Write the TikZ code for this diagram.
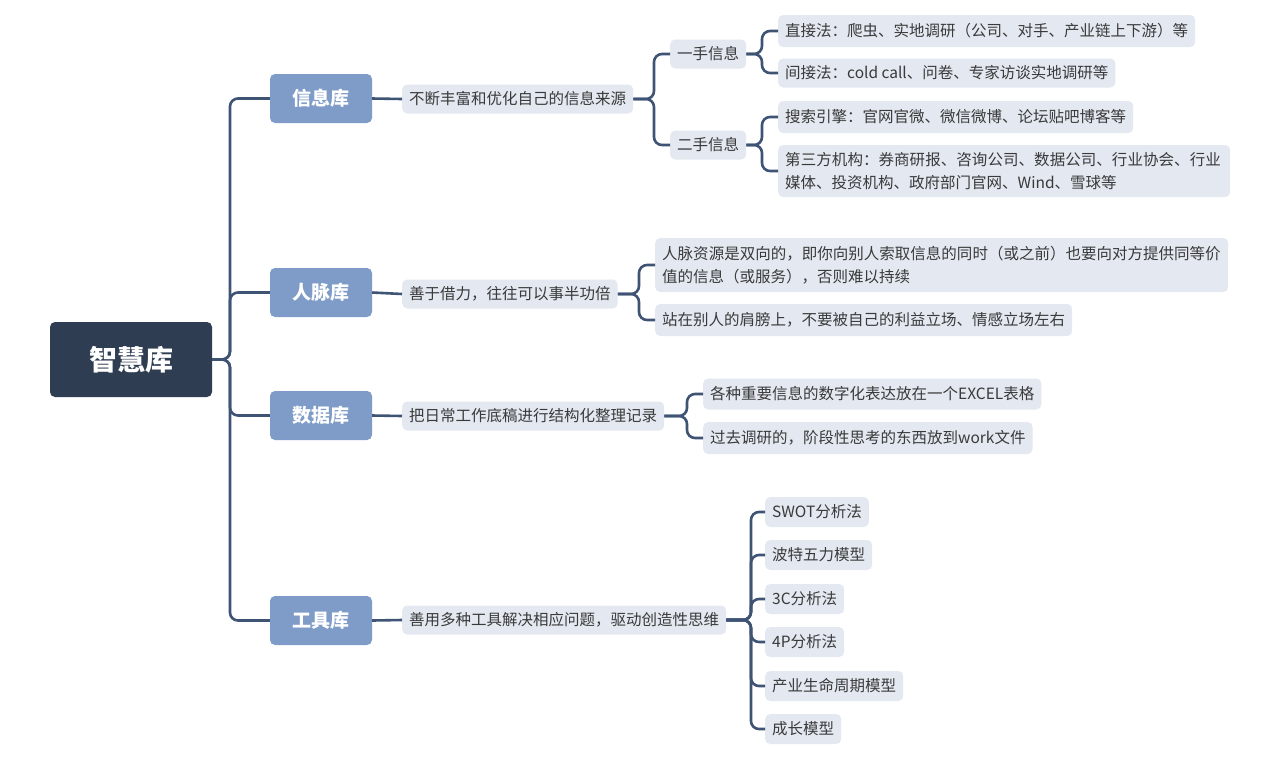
\documentclass[tikz,border=0pt]{standalone}
\usepackage{fontspec}
\setmainfont{Noto Sans CJK SC}
\XeTeXlinebreaklocale "zh"
\XeTeXlinebreakskip=0pt plus 1pt
\definecolor{rootc}{HTML}{2E3D52}
\definecolor{lone}{HTML}{7F9CC8}
\definecolor{ltwo}{HTML}{E3E8F1}
\definecolor{conc}{HTML}{3F5475}
\definecolor{txtc}{HTML}{3A3A3A}
\begin{document}
\begin{tikzpicture}[x=1pt,y=-1pt,
  rootbox/.style={fill=rootc,text=white,rounded corners=5pt,minimum width=162pt,minimum height=75pt,font=\fontsize{28}{30}\selectfont\bfseries},
  onebox/.style={fill=lone,text=white,rounded corners=5pt,minimum width=102pt,minimum height=49pt,font=\fontsize{19}{21}\selectfont\bfseries},
  twobox/.style={fill=ltwo,text=txtc,rounded corners=5pt,anchor=west,inner xsep=7pt,minimum height=29pt,font=\fontsize{15.5}{23}\selectfont},
  conn/.style={draw=conc,line width=2.6pt,rounded corners=8pt}]
\fill[white] (0,0) rectangle (1282,766);
\node[rootbox] (root) at (131,359.5) {智慧库};
\node[onebox] (k1) at (321,98.5) {信息库};
\node[onebox] (k2) at (321,292.5) {人脉库};
\node[onebox] (k3) at (321,415.5) {数据库};
\node[onebox] (k4) at (321,620.5) {工具库};
\foreach \k in {k1,k2,k3,k4} \draw[conn] (root.east) -- (230,359.5) |- (\k.west);
% info
\node[twobox] (a) at (402,99) {不断丰富和优化自己的信息来源};
\node[twobox] (a1) at (670,54) {一手信息};
\node[twobox] (a2) at (670,145) {二手信息};
\node[twobox,minimum height=32pt] (a11) at (778,31) {直接法：爬虫、实地调研（公司、对手、产业链上下游）等};
\node[twobox] (a12) at (778,73) {间接法：cold call、问卷、专家访谈实地调研等};
\node[twobox,minimum height=32pt] (a21) at (778,117) {搜索引擎：官网官微、微信微博、论坛贴吧博客等};
\node[twobox,text width=438pt,align=left,minimum height=52pt] (a22) at (778,171) {第三方机构：券商研报、咨询公司、数据公司、行业协会、行业媒体、投资机构、政府部门官网、Wind、雪球等};
\draw[conn] (k1.east) -- (a.west);
\foreach \c in {a1,a2} \draw[conn] (a.east) -- (654,99) |- (\c.west);
\foreach \c in {a11,a12} \draw[conn] (a1.east) -- (762,54) |- (\c.west);
\foreach \c in {a21,a22} \draw[conn] (a2.east) -- (762,145) |- (\c.west);
% people
\node[twobox] (b) at (402,294) {善于借力，往往可以事半功倍};
\node[twobox,text width=559pt,align=left,minimum height=54pt] (b1) at (655,265) {人脉资源是双向的，即你向别人索取信息的同时（或之前）也要向对方提供同等价值的信息（或服务），否则难以持续};
\node[twobox,minimum height=32pt] (b2) at (655,320) {站在别人的肩膀上，不要被自己的利益立场、情感立场左右};
\draw[conn] (k2.east) -- (b.west);
\foreach \c in {b1,b2} \draw[conn] (b.east) -- (639,294) |- (\c.west);
% data
\node[twobox] (c) at (402,416) {把日常工作底稿进行结构化整理记录};
\node[twobox,minimum height=31pt] (c1) at (703,394) {各种重要信息的数字化表达放在一个EXCEL表格};
\node[twobox,minimum height=32pt] (c2) at (703,438) {过去调研的，阶段性思考的东西放到work文件};
\draw[conn] (k3.east) -- (c.west);
\foreach \c in {c1,c2} \draw[conn] (c.east) -- (687,416) |- (\c.west);
% tools
\node[twobox] (d) at (402,620) {善用多种工具解决相应问题，驱动创造性思维};
\node[twobox,minimum height=30pt] (d1) at (765,512) {SWOT分析法};
\node[twobox,minimum height=30pt] (d2) at (765,555) {波特五力模型};
\node[twobox,minimum height=30pt] (d3) at (765,599) {3C分析法};
\node[twobox,minimum height=30pt] (d4) at (765,642) {4P分析法};
\node[twobox,minimum height=30pt] (d5) at (765,686) {产业生命周期模型};
\node[twobox,minimum height=30pt] (d6) at (765,729) {成长模型};
\draw[conn] (k4.east) -- (d.west);
\foreach \c in {d1,d2,d3,d4,d5,d6} \draw[conn] (d.east) -- (751,620) |- (\c.west);
\end{tikzpicture}
\end{document}
